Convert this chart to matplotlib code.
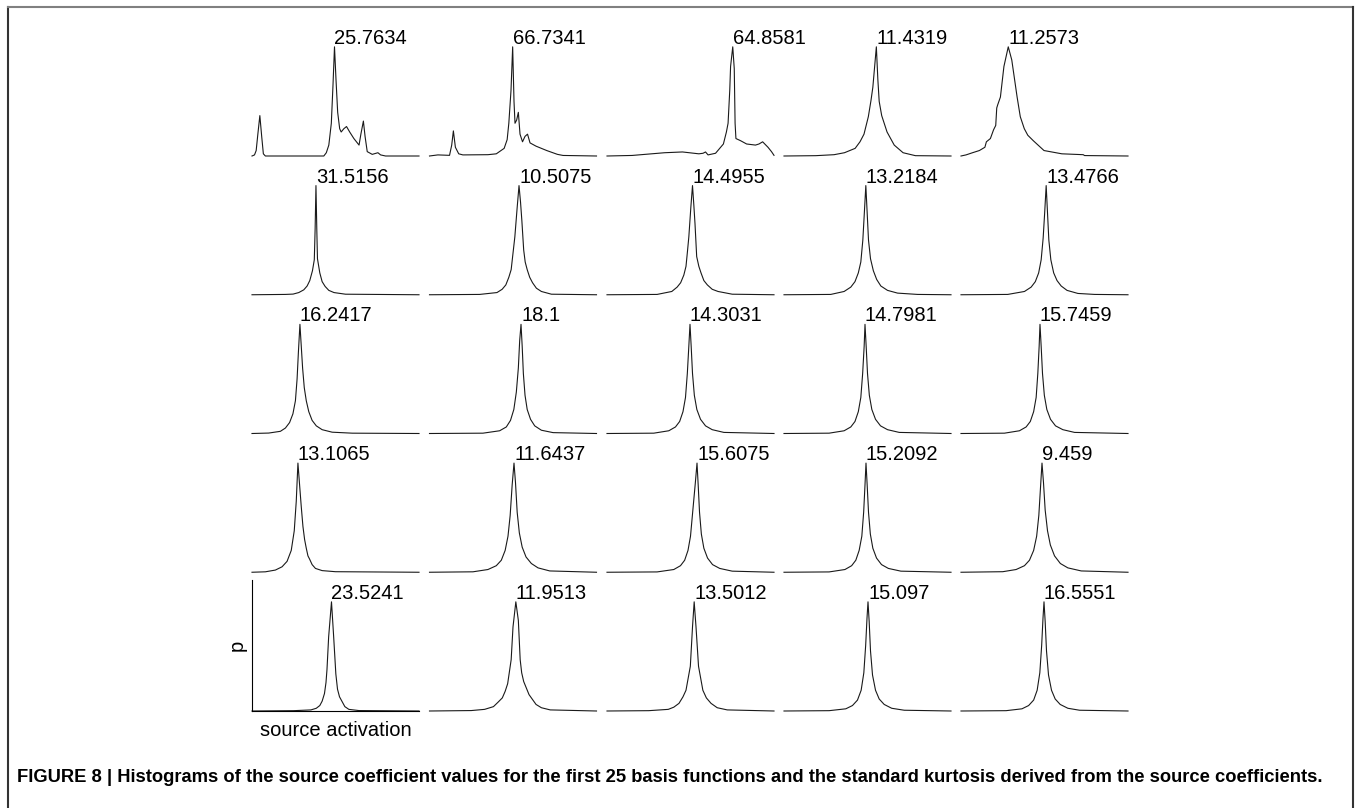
import numpy as np
import matplotlib
matplotlib.use('Agg')
import matplotlib.pyplot as plt
from matplotlib.lines import Line2D

# kurtosis labels, row by row
kurtosis = ['25.7634', '66.7341', '64.8581', '11.4319', '11.2573',
            '31.5156', '10.5075', '14.4955', '13.2184', '13.4766',
            '16.2417', '18.1', '14.3031', '14.7981', '15.7459',
            '13.1065', '11.6437', '15.6075', '15.2092', '9.459',
            '23.5241', '11.9513', '13.5012', '15.097', '16.5551']

# histogram outlines: (source activation %, relative p)
h11 = [(0, 0), (1.5, 0.01), (2.5, 0.05), (3.5, 0.2), (4.7, 0.37), (5.8, 0.18), (6.8, 0.02), (8, 0),
       (43, 0), (44.5, 0.03), (46, 0.1), (47.5, 0.3), (48.5, 0.65), (49.4, 1.0), (50.3, 0.7),
       (51.3, 0.4), (52.5, 0.25), (53.4, 0.22), (55, 0.25), (56.6, 0.27), (58.5, 0.22), (61, 0.16),
       (64.1, 0.10), (65.2, 0.2), (66.7, 0.32), (67.7, 0.18), (69, 0.04), (72, 0.015), (75.4, 0.03),
       (77, 0.01), (80, 0), (100, 0)]
h12 = [(0, 0), (5, 0.01), (12, 0.006), (13.3, 0.1), (14.3, 0.23), (15.5, 0.08), (17.5, 0.02), (20, 0.01),
       (35, 0.012), (40, 0.02), (44.7, 0.07), (46.5, 0.15), (47.5, 0.3), (48.8, 0.6), (49.8, 1.0),
       (50.6, 0.5), (51.2, 0.3), (52.2, 0.33), (53.2, 0.40), (54.2, 0.2), (55.7, 0.13), (57.2, 0.18),
       (58.7, 0.2), (60.2, 0.12), (63.8, 0.09), (70.2, 0.05), (76.6, 0.015), (80, 0.005), (100, 0)]
h13 = [(0, 0), (15, 0.005), (34.5, 0.03), (45.2, 0.037), (55, 0.02), (57.5, 0.025), (59, 0.037),
       (60.5, 0.01), (65, 0.025), (69.7, 0.11), (71.5, 0.22), (72.5, 0.30), (73.5, 0.6), (74, 0.82),
       (75.3, 1.0), (76.2, 0.8), (76.7, 0.3), (77.2, 0.16), (80, 0.14), (83.6, 0.11), (88.9, 0.10),
       (91, 0.11), (93.2, 0.13), (96.4, 0.08), (98.5, 0.04), (100, 0.006)]
h14 = [(0, 0), (19, 0.003), (30, 0.012), (36.2, 0.03), (42.6, 0.07), (45.5, 0.13), (47.9, 0.2),
       (50.5, 0.36), (52.1, 0.51), (53.2, 0.63), (55.3, 1.0), (56.2, 0.7), (57, 0.5), (58.5, 0.37),
       (61.7, 0.22), (66, 0.10), (71.3, 0.03), (78.7, 0.003), (100, 0)]
h15 = [(0, 0), (3, 0.01), (6.9, 0.03), (11, 0.05), (14.3, 0.08), (15.2, 0.13), (17.6, 0.16), (19.5, 0.24),
       (20.8, 0.28), (21.4, 0.44), (22, 0.47), (23.6, 0.54), (25.7, 0.82), (28.3, 1.0), (30.4, 0.88),
       (33.6, 0.54), (35.5, 0.36), (37.9, 0.25), (40, 0.19), (43.3, 0.14), (49.7, 0.05), (60.4, 0.02),
       (73.2, 0.012), (74, 0.004), (100, 0)]

h21 = [(0, 0), (20, 0.003), (24.6, 0.006), (28, 0.02), (31, 0.045), (33, 0.08), (34.6, 0.13), (36.2, 0.22),
       (37.3, 0.32), (37.8, 0.6), (38.3, 1.0), (38.8, 0.6), (39.2, 0.33), (40.6, 0.2), (42, 0.12),
       (43.8, 0.076), (46, 0.04), (49.1, 0.02), (56, 0.005), (100, 0)]
h22 = [(0, 0), (30, 0.003), (40.4, 0.02), (43.5, 0.05), (45.7, 0.09), (47.5, 0.16), (48.9, 0.23), (50, 0.38),
       (51.1, 0.53), (52.5, 0.8), (53.6, 1.0), (54.5, 0.85), (55.3, 0.68), (56.4, 0.41), (57.3, 0.3),
       (58.5, 0.23), (60, 0.16), (61.7, 0.11), (64, 0.06), (67, 0.03), (73, 0.005), (100, 0)]
h23 = [(0, 0), (30, 0.003), (38.8, 0.03), (42, 0.07), (44.1, 0.11), (46, 0.18), (47.3, 0.26), (48.2, 0.4),
       (49, 0.53), (50.2, 0.8), (51.2, 1.0), (52, 0.82), (52.7, 0.65), (53.7, 0.35), (55, 0.26),
       (56.3, 0.2), (58, 0.13), (60.1, 0.09), (63, 0.05), (66.5, 0.03), (75, 0.005), (100, 0)]
h24 = [(0, 0), (28, 0.003), (36, 0.03), (40, 0.07), (42.5, 0.12), (44.5, 0.2), (46, 0.3), (47.2, 0.5),
       (48, 0.72), (49, 1.0), (49.8, 0.75), (50.6, 0.5), (51.8, 0.33), (53.5, 0.22), (55.5, 0.14),
       (58, 0.08), (62, 0.04), (68, 0.015), (80, 0.003), (100, 0)]
h25 = [(0, 0), (28, 0.003), (38, 0.03), (42, 0.07), (44.5, 0.12), (46.5, 0.2), (48, 0.32), (49.2, 0.52),
       (50.1, 0.75), (51, 1.0), (51.8, 0.75), (52.6, 0.5), (53.8, 0.32), (55.5, 0.2), (57.5, 0.13),
       (60, 0.08), (63.5, 0.04), (70, 0.012), (80, 0.003), (100, 0)]

h31 = [(0, 0), (10, 0.004), (17, 0.02), (20, 0.05), (22.5, 0.1), (24.5, 0.18), (26, 0.3), (27, 0.5),
       (27.8, 0.75), (28.7, 1.0), (29.5, 0.8), (30.3, 0.6), (31.3, 0.42), (32.5, 0.3), (34, 0.2),
       (36, 0.12), (38.5, 0.07), (42, 0.035), (48, 0.012), (60, 0.003), (100, 0)]
h32 = [(0, 0), (32, 0.003), (42, 0.025), (46, 0.06), (48.5, 0.12), (50.5, 0.22), (52, 0.38), (53.2, 0.6),
       (54, 0.85), (54.8, 1.0), (55.5, 0.8), (56.2, 0.55), (57.2, 0.35), (58.5, 0.22), (60.5, 0.13),
       (63, 0.07), (67, 0.03), (74, 0.008), (100, 0)]
h33 = [(0, 0), (28, 0.003), (37, 0.025), (41, 0.06), (43.5, 0.11), (45.5, 0.2), (47, 0.33), (48.1, 0.55),
       (49, 0.8), (49.7, 1.0), (50.4, 0.8), (51.2, 0.55), (52.3, 0.35), (53.8, 0.22), (56, 0.13),
       (59, 0.07), (63, 0.035), (70, 0.01), (100, 0)]
h34 = [(0, 0), (27, 0.003), (36, 0.025), (40, 0.06), (42.5, 0.11), (44.5, 0.2), (46, 0.33), (47.1, 0.55),
       (48, 0.8), (48.5, 1.0), (49.2, 0.8), (50, 0.55), (51.1, 0.35), (52.6, 0.22), (54.8, 0.13),
       (57.8, 0.07), (62, 0.035), (69, 0.01), (100, 0)]
h35 = [(0, 0), (26, 0.003), (35, 0.025), (39, 0.06), (41.5, 0.11), (43.5, 0.2), (45, 0.33), (46, 0.55),
       (46.8, 0.8), (47.3, 1.0), (48, 0.8), (48.8, 0.55), (49.9, 0.35), (51.4, 0.22), (53.6, 0.13),
       (56.6, 0.07), (61, 0.035), (68, 0.01), (100, 0)]

h41 = [(0, 0), (8, 0.004), (14, 0.02), (18, 0.05), (21, 0.1), (23.5, 0.2), (25.3, 0.38), (26.5, 0.65),
       (27.5, 1.0), (28.5, 0.8), (29.5, 0.6), (30.5, 0.42), (31.5, 0.3), (32.5, 0.22), (33.5, 0.15),
       (34.5, 0.12), (36, 0.07), (38, 0.035), (42, 0.015), (50, 0.005), (100, 0)]
h42 = [(0, 0), (26, 0.004), (35, 0.025), (40, 0.06), (43, 0.11), (45.3, 0.2), (47, 0.33), (48.3, 0.52),
       (49.5, 0.8), (50.6, 1.0), (51.5, 0.82), (52.5, 0.55), (53.8, 0.36), (55.5, 0.23), (57.8, 0.14),
       (61, 0.08), (65, 0.04), (72, 0.012), (100, 0)]
h43 = [(0, 0), (30, 0.003), (40, 0.025), (44, 0.06), (46.5, 0.11), (48.5, 0.2), (50, 0.33), (51.3, 0.55),
       (52.9, 0.82), (53.9, 1.0), (54.6, 0.8), (55.4, 0.55), (56.5, 0.35), (58, 0.22), (60.2, 0.13),
       (63.2, 0.07), (67.5, 0.035), (75, 0.01), (100, 0)]
h44 = [(0, 0), (27, 0.003), (36.5, 0.025), (40.5, 0.06), (43, 0.11), (45, 0.2), (46.6, 0.33), (47.7, 0.55),
       (48.5, 0.8), (49.1, 1.0), (49.8, 0.8), (50.6, 0.55), (51.7, 0.35), (53.2, 0.22), (55.4, 0.13),
       (58.4, 0.07), (62.5, 0.035), (70, 0.01), (100, 0)]
h45 = [(0, 0), (25, 0.005), (33, 0.025), (38, 0.06), (41, 0.11), (43.5, 0.2), (45.3, 0.33), (46.6, 0.52),
       (47.7, 0.8), (48.5, 1.0), (49.4, 0.82), (50.4, 0.57), (51.8, 0.38), (53.5, 0.25), (56, 0.15),
       (59.5, 0.08), (64, 0.04), (72, 0.012), (100, 0)]

h51 = [(0, 0), (25, 0.003), (35.3, 0.01), (38.5, 0.025), (40.6, 0.05), (42, 0.09), (43.4, 0.16),
       (44.3, 0.26), (44.9, 0.38), (45.9, 0.68), (47.6, 1.0), (48.9, 0.68), (50.2, 0.34), (51.2, 0.2),
       (52.4, 0.13), (55.6, 0.04), (58, 0.015), (64, 0.004), (100, 0)]
h52 = [(0, 0), (25, 0.004), (33, 0.015), (38.3, 0.04), (41, 0.08), (43.6, 0.12), (45.3, 0.18), (46.8, 0.25),
       (48.9, 0.47), (50, 0.77), (51.7, 1.0), (53.2, 0.83), (54.3, 0.47), (55.2, 0.35), (56.4, 0.27),
       (59.6, 0.15), (63.8, 0.06), (67, 0.03), (72.3, 0.01), (100, 0)]
h53 = [(0, 0), (25, 0.003), (36.7, 0.015), (40, 0.035), (43.1, 0.07), (45.5, 0.13), (47.3, 0.19),
       (49.9, 0.41), (51.2, 0.77), (52.2, 1.0), (53.3, 0.77), (54.8, 0.41), (57.4, 0.19), (59.5, 0.12),
       (62.3, 0.07), (66, 0.03), (72, 0.01), (100, 0)]
h54 = [(0, 0), (27, 0.003), (37, 0.02), (41, 0.05), (44, 0.1), (46.2, 0.19), (47.8, 0.35), (48.9, 0.6),
       (49.7, 0.85), (50.3, 1.0), (51, 0.82), (51.8, 0.55), (53, 0.33), (54.8, 0.19), (57, 0.11),
       (60, 0.06), (64.5, 0.025), (72, 0.007), (100, 0)]
h55 = [(0, 0), (27, 0.003), (36.5, 0.02), (40.5, 0.05), (43.5, 0.1), (45.6, 0.19), (47.2, 0.35),
       (48.3, 0.6), (49.1, 0.85), (49.7, 1.0), (50.4, 0.82), (51.2, 0.55), (52.4, 0.33), (54.2, 0.19),
       (56.4, 0.11), (59.4, 0.06), (64, 0.025), (71, 0.007), (100, 0)]

panels = [h11, h12, h13, h14, h15,
          h21, h22, h23, h24, h25,
          h31, h32, h33, h34, h35,
          h41, h42, h43, h44, h45,
          h51, h52, h53, h54, h55]

caption = ('FIGURE 8 | Histograms of the source coefficient values for the first 25 basis functions '
           'and the standard kurtosis derived from the source coefficients.')

plt.rcParams['font.family'] = ['Liberation Sans', 'DejaVu Sans']

W, H = 1355, 808
fig = plt.figure(figsize=(W / 100, H / 100), dpi=100)

col_left = [252, 429.5, 607, 784, 961]     # pixel positions of the panels
row_base = [156, 294.75, 433.5, 572.25, 711]
ax_w, ax_h = 167, 131
lab_size = 14.5

for k, (pts, lab) in enumerate(zip(panels, kurtosis)):
    r, c = divmod(k, 5)
    ax = fig.add_axes([col_left[c] / W, 1 - row_base[r] / H, ax_w / W, ax_h / H])
    x = [p[0] for p in pts]
    y = [p[1] for p in pts]
    ax.plot(x, y, color='#1a1a1a', lw=0.8, clip_on=False)
    ax.set_xlim(0, 100)
    ax.set_ylim(0, 1.2)
    i = int(np.argmax(y))
    ax.annotate(lab, xy=(x[i], y[i]), xytext=(0, 2.2), textcoords='offset points',
                ha='left', va='baseline', fontsize=lab_size)
    ax.set_xticks([])
    ax.set_yticks([])
    for s in ax.spines.values():
        s.set_visible(False)
    ax.patch.set_visible(False)
    if r == 4 and c == 0:
        ax.spines['left'].set_visible(True)
        ax.spines['bottom'].set_visible(True)
        ax.spines['left'].set_linewidth(0.8)
        ax.spines['bottom'].set_linewidth(0.8)
        ax.set_ylabel('p', fontsize=lab_size, labelpad=4)
        ax.set_xlabel('source activation', fontsize=lab_size, labelpad=7)

# frame round the figure (left, top, right edges)
def px(xp, yp):
    return [v / W for v in xp], [1 - v / H for v in yp]

fx, fy = px([8, 8], [7, H + 2])
fig.add_artist(Line2D(fx, fy, color='#333333', lw=1.5))
fx, fy = px([8, 1353], [7, 7])
fig.add_artist(Line2D(fx, fy, color='#808080', lw=1.5))
fx, fy = px([1353, 1353], [7, H + 2])
fig.add_artist(Line2D(fx, fy, color='#333333', lw=1.5))

cap = fig.text(17 / W, 1 - 778 / H, caption, ha='left', va='center', fontsize=14,
               fontweight='bold', fontstretch='condensed',
               family=['Liberation Sans Narrow', 'DejaVu Sans Condensed', 'Liberation Sans'])
fig.canvas.draw()
wpx = cap.get_window_extent().width
cap.set_fontsize(14 * 1314 / wpx)

fig.savefig('out.png', dpi=100)
